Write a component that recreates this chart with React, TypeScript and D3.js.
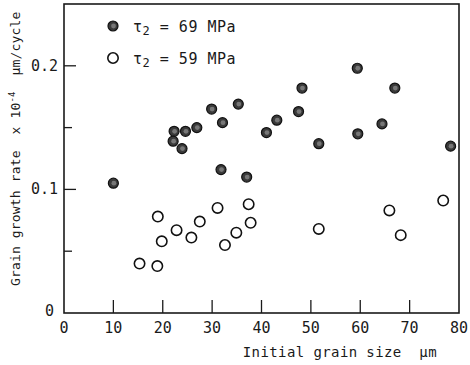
import { useEffect, useRef } from "react";
import * as d3 from "d3";

// tau2 = 69 MPa (filled)
const highX = [10, 22.3, 24.6, 26.9, 22.1, 23.9, 29.9, 32.1, 35.3, 31.8, 37.0, 59.4, 48.2, 67.0, 47.5, 43.1, 41.0, 64.4, 59.5, 51.6, 78.3];
const highY = [0.105, 0.147, 0.147, 0.15, 0.139, 0.133, 0.165, 0.154, 0.169, 0.116, 0.11, 0.198, 0.182, 0.182, 0.163, 0.156, 0.146, 0.153, 0.145, 0.137, 0.135];

// tau2 = 59 MPa (open)
const lowX = [19.0, 31.1, 37.4, 37.8, 27.5, 22.8, 19.8, 25.8, 34.9, 32.6, 15.3, 18.9, 51.6, 65.9, 68.2, 76.8];
const lowY = [0.078, 0.085, 0.088, 0.073, 0.074, 0.067, 0.058, 0.061, 0.065, 0.055, 0.04, 0.038, 0.068, 0.083, 0.063, 0.091];

const xTicks = [0, 10, 20, 30, 40, 50, 60, 70, 80];
const yMajor = [0, 0.1, 0.2];
const yMajorLabels = ["0", "0.1", "0.2"];
const yMinor = [0.05, 0.15];

const W = 470;
const H = 365;
const margin = { top: 4, right: 11, bottom: 52, left: 64 };
const mono = "'DejaVu Sans Mono', 'Liberation Mono', monospace";

export default function App() {
  const ref = useRef<SVGSVGElement>(null);

  useEffect(() => {
    if (!ref.current) return;
    const svg = d3.select(ref.current);
    svg.selectAll("*").remove();

    const x = d3.scaleLinear().domain([0, 80]).range([margin.left, W - margin.right]);
    const y = d3.scaleLinear().domain([0, 0.25]).range([H - margin.bottom, margin.top]);
    const ink = "#1a1a1a";

    // frame
    svg
      .append("rect")
      .attr("x", x(0))
      .attr("y", y(0.25))
      .attr("width", x(80) - x(0))
      .attr("height", y(0) - y(0.25))
      .attr("fill", "none")
      .attr("stroke", ink)
      .attr("stroke-width", 1.6);

    // x ticks (inward)
    svg
      .selectAll(".xt")
      .data(xTicks.slice(1, -1))
      .join("line")
      .attr("x1", (d) => x(d))
      .attr("x2", (d) => x(d))
      .attr("y1", y(0))
      .attr("y2", y(0) - 13)
      .attr("stroke", ink)
      .attr("stroke-width", 1.3);

    svg
      .selectAll(".xl")
      .data(xTicks)
      .join("text")
      .attr("x", (d) => x(d))
      .attr("y", y(0) + 20)
      .attr("text-anchor", "middle")
      .attr("font-family", mono)
      .attr("font-size", 15)
      .attr("fill", ink)
      .text((d) => String(d));

    // y ticks
    svg
      .selectAll(".ytM")
      .data(yMajor.slice(1))
      .join("line")
      .attr("x1", x(0))
      .attr("x2", x(0) + 12)
      .attr("y1", (d) => y(d))
      .attr("y2", (d) => y(d))
      .attr("stroke", ink)
      .attr("stroke-width", 1.3);

    svg
      .selectAll(".ytm")
      .data(yMinor)
      .join("line")
      .attr("x1", x(0))
      .attr("x2", x(0) + 8)
      .attr("y1", (d) => y(d))
      .attr("y2", (d) => y(d))
      .attr("stroke", ink)
      .attr("stroke-width", 1.3);

    svg
      .selectAll(".yl")
      .data(yMajor)
      .join("text")
      .attr("x", (d) => (d === 0 ? x(0) - 10 : x(0) - 6))
      .attr("y", (d) => y(d) + (d === 0 ? 3 : 5))
      .attr("text-anchor", "end")
      .attr("font-family", mono)
      .attr("font-size", 15)
      .attr("fill", ink)
      .text((_, i) => yMajorLabels[i]);

    // axis titles
    svg
      .append("text")
      .attr("x", 437)
      .attr("y", 357)
      .attr("text-anchor", "end")
      .attr("font-family", mono)
      .attr("font-size", 14)
      .attr("letter-spacing", 0.4)
      .attr("fill", ink)
      .attr("xml:space", "preserve")
      .text("Initial grain size  μm");

    const yt = svg
      .append("text")
      .attr("transform", `translate(20,286) rotate(-90)`)
      .attr("font-family", mono)
      .attr("font-size", 13)
      .attr("letter-spacing", 0.15)
      .attr("fill", ink)
      .attr("xml:space", "preserve");
    yt.append("tspan").text("Grain growth rate  x 10");
    yt.append("tspan").attr("dy", -5).attr("font-size", 9).text("-4");
    yt.append("tspan").attr("dy", 5).text("  μm/cycle");

    // points
    const drawFilled = (g: d3.Selection<SVGGElement, unknown, null, undefined>, cx: number, cy: number) => {
      g.append("circle").attr("cx", cx).attr("cy", cy).attr("r", 5).attr("fill", "#3a3a3a").attr("stroke", "#111").attr("stroke-width", 1.2);
      g.append("circle").attr("cx", cx + 0.5).attr("cy", cy).attr("r", 2.4).attr("fill", "#777");
    };
    const drawOpen = (g: d3.Selection<SVGGElement, unknown, null, undefined>, cx: number, cy: number) => {
      g.append("circle").attr("cx", cx).attr("cy", cy).attr("r", 5.2).attr("fill", "#fff").attr("stroke", "#111").attr("stroke-width", 1.6);
    };

    const pts = svg.append("g");
    lowX.forEach((v, i) => drawOpen(pts, x(v), y(lowY[i])));
    highX.forEach((v, i) => drawFilled(pts, x(v), y(highY[i])));

    // legend
    const leg = svg.append("g");
    const legendRows = [
      { label: "69 MPa", filled: true },
      { label: "59 MPa", filled: false },
    ];
    legendRows.forEach((row, i) => {
      const cy = 26 + i * 32;
      if (row.filled) drawFilled(leg, 113, cy);
      else drawOpen(leg, 113, cy);
      const t = leg
        .append("text")
        .attr("x", 133)
        .attr("y", cy + 6)
        .attr("font-family", mono)
        .attr("font-size", 15)
        .attr("letter-spacing", 0.5)
        .attr("fill", ink)
        .attr("xml:space", "preserve");
      t.append("tspan").text("τ");
      t.append("tspan").attr("dy", 3).attr("font-size", 12).text("2");
      t.append("tspan").attr("dy", -3).text(" = " + row.label);
    });
  }, []);

  return (
    <svg
      ref={ref}
      width={W}
      height={H}
      style={{ position: "absolute", left: 0, top: 0, background: "#fff", display: "block" }}
    />
  );
}
